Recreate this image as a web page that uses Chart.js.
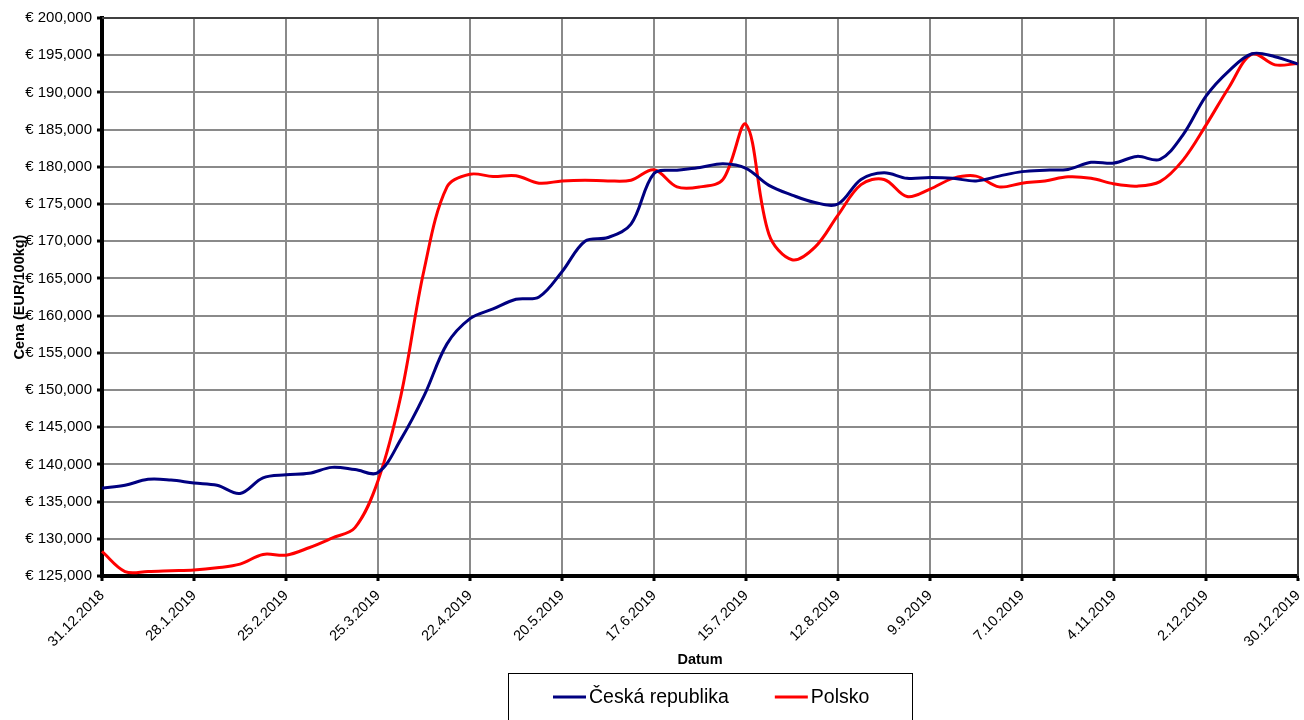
<!DOCTYPE html>
<html>
<head>
<meta charset="utf-8">
<title>Cena ČR / Polsko 2019</title>
<script src="https://cdn.jsdelivr.net/npm/chart.js@4/dist/chart.umd.min.js"></script>
<style>
  html, body { margin: 0; padding: 0; background: #fff; }
  #wrap { width: 1304px; height: 720px; }
</style>
</head>
<body>
<div id="wrap"><canvas id="priceChart" width="1304" height="720"></canvas></div>
<script>
// weekly dates (mondays)
const weeks = [
  "31.12.2018", "7.1.2019", "14.1.2019", "21.1.2019", "28.1.2019", "4.2.2019", "11.2.2019", "18.2.2019",
  "25.2.2019", "4.3.2019", "11.3.2019", "18.3.2019", "25.3.2019", "1.4.2019", "8.4.2019", "15.4.2019",
  "22.4.2019", "29.4.2019", "6.5.2019", "13.5.2019", "20.5.2019", "27.5.2019", "3.6.2019", "10.6.2019",
  "17.6.2019", "24.6.2019", "1.7.2019", "8.7.2019", "15.7.2019", "22.7.2019", "29.7.2019", "5.8.2019",
  "12.8.2019", "19.8.2019", "26.8.2019", "2.9.2019", "9.9.2019", "16.9.2019", "23.9.2019", "30.9.2019",
  "7.10.2019", "14.10.2019", "21.10.2019", "28.10.2019", "4.11.2019", "11.11.2019", "18.11.2019", "25.11.2019",
  "2.12.2019", "9.12.2019", "16.12.2019", "23.12.2019", "30.12.2019"
]

const ceskaRepublika = [
  136800, 137200, 138000, 137900, 137500, 137200, 136100, 138200,
  138600, 138800, 139600, 139300, 138900, 143400, 149200, 156200,
  159600, 160900, 162200, 162500, 165900, 170000, 170500, 172300,
  179100, 179550, 179900, 180400, 179800, 177500, 176200, 175200,
  175000, 178300, 179200, 178450, 178550, 178450, 178100, 178750,
  179350, 179550, 179650, 180600, 180500, 181400, 181000, 184300,
  189500, 192900, 195200, 194800, 193800
]

const polsko = [
  128300, 125600, 125600, 125700, 125800, 126100, 126600, 127900,
  127800, 128800, 130100, 131500, 137800, 149300, 166100, 177300,
  179000, 178700, 178800, 177800, 178100, 178200, 178100, 178200,
  179600, 177300, 177300, 178300, 185700, 170900, 167500, 169200,
  173500, 177600, 178300, 176000, 177000, 178450, 178750, 177300,
  177800, 178100, 178650, 178450, 177700, 177400, 178000, 180900,
  185600, 190700, 195150, 193700, 193900
]

const seriesNames = ["Česká republika", "Polsko"]
const seriesColors = ["#000080", "#ff0000"]

const yMin = 125000
const yMax = 200000
const yStep = 5000

const fontFamily = '"Liberation Sans", Arial, Helvetica, sans-serif'
const gridColor = "#8a8a8a"

Chart.defaults.font.family = fontFamily
Chart.defaults.color = "#000"

// thin frame on top / right of plot
const plotFrame = {
  id: "plotFrame",
  beforeDatasetsDraw(chart) {
    const { ctx, chartArea } = chart
    ctx.save()
    ctx.strokeStyle = "#404040"
    ctx.lineWidth = 2
    ctx.beginPath()
    ctx.moveTo(chartArea.left, chartArea.top)
    ctx.lineTo(chartArea.right, chartArea.top)
    ctx.lineTo(chartArea.right, chartArea.bottom)
    ctx.stroke()
    ctx.restore()
  },
}

// boxed legend like the excel one
const boxLegend = {
  id: "boxLegend",
  afterDraw(chart) {
    const ctx = chart.ctx
    ctx.save()
    ctx.strokeStyle = "#000"
    ctx.lineWidth = 1
    ctx.strokeRect(508.5, 673.5, 404, 60)
    ctx.font = "19.5px " + fontFamily
    ctx.textBaseline = "middle"
    ctx.textAlign = "left"
    let x = 553
    const y = 697
    chart.data.datasets.forEach((ds) => {
      ctx.strokeStyle = ds.borderColor
      ctx.lineWidth = 3
      ctx.beginPath()
      ctx.moveTo(x, y)
      ctx.lineTo(x + 33, y)
      ctx.stroke()
      ctx.fillStyle = "#000"
      ctx.fillText(ds.label, x + 36, y + 1)
      x += 36 + ctx.measureText(ds.label).width + 46
    })
    ctx.restore()
  },
}

new Chart(document.getElementById("priceChart"), {
  type: "line",
  data: {
    labels: weeks,
    datasets: [
      {
        label: seriesNames[0],
        data: ceskaRepublika,
        borderColor: seriesColors[0],
        backgroundColor: seriesColors[0],
        borderWidth: 3,
        pointRadius: 0,
        tension: 0.35,
      },
      {
        label: seriesNames[1],
        data: polsko,
        borderColor: seriesColors[1],
        backgroundColor: seriesColors[1],
        borderWidth: 3,
        pointRadius: 0,
        tension: 0.35,
      },
    ],
  },
  options: {
    responsive: false,
    animation: false,
    devicePixelRatio: 1,
    layout: {
      padding: { left: 0, right: 6, top: 18, bottom: 47 },
    },
    plugins: {
      legend: { display: false },
      tooltip: { enabled: false },
    },
    scales: {
      x: {
        type: "category",
        offset: false,
        afterFit: (scale) => {
          scale.height = 97
          scale.paddingLeft = 0
          scale.paddingRight = 0
        },
        grid: {
          color: (c) => (c.index % 4 === 0 ? gridColor : "transparent"),
          tickColor: (c) => (c.index % 4 === 0 ? "#000" : "transparent"),
          lineWidth: 2,
          tickLength: 5,
          tickWidth: 3,
        },
        border: { display: true, color: "#000", width: 4 },
        ticks: {
          autoSkip: false,
          minRotation: 45,
          maxRotation: 45,
          padding: 6,
          font: { size: 14.5 },
          callback: (val, i) => (i % 4 === 0 ? weeks[i] : ""),
        },
        title: {
          display: true,
          text: "Datum",
          font: { size: 14.5, weight: "bold" },
          padding: { top: 4, bottom: 4 },
        },
      },
      y: {
        min: yMin,
        max: yMax,
        afterFit: (scale) => {
          scale.width = 102
        },
        grid: {
          color: gridColor,
          lineWidth: 2,
          tickColor: "#000",
          tickLength: 5,
          tickWidth: 3,
        },
        border: { display: true, color: "#000", width: 4 },
        ticks: {
          stepSize: yStep,
          padding: 5,
          font: { size: 15 },
          callback: (v) => "€ " + v.toLocaleString("en-US"),
        },
        title: {
          display: true,
          text: "Cena (EUR/100kg)",
          font: { size: 14.5, weight: "bold" },
          padding: { top: 11, bottom: 0 },
        },
      },
    },
  },
  plugins: [plotFrame, boxLegend],
})
</script>
</body>
</html>
